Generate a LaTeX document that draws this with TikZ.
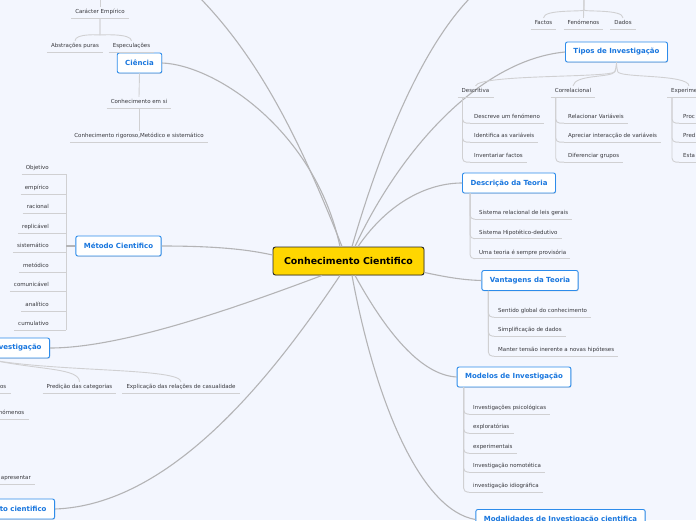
\documentclass[tikz,border=0pt]{standalone}
\usepackage{fontspec}
\setmainfont{DejaVu Sans}
\usetikzlibrary{shadows}
\definecolor{bgcol}{RGB}{243,246,254}
\definecolor{topicblue}{RGB}{24,118,222}
\definecolor{frameblue}{RGB}{45,140,235}
\definecolor{branchgray}{RGB}{180,180,182}
\definecolor{twiggray}{RGB}{208,208,210}
\definecolor{leafgray}{RGB}{55,55,60}
\definecolor{centergold}{RGB}{255,214,0}
\begin{document}
\begin{tikzpicture}[x=1pt,y=-1pt,
  topic/.style={draw=frameblue,fill=white,line width=0.9pt,rounded corners=2pt,
    minimum height=20pt,inner xsep=8pt,text=topicblue,
    font=\fontsize{7}{8}\selectfont\bfseries,
    drop shadow={opacity=0.25,shadow xshift=0.5pt,shadow yshift=-0.9pt}},
  ltext/.style={font=\fontsize{5.5}{6.5}\selectfont,text=leafgray,inner xsep=4pt,
    inner ysep=2.7pt,text height=4.2pt,text depth=1.3pt},
  leaf/.style={ltext,append after command={(\tikzlastnode.south west) edge[uline] (\tikzlastnode.south east)}},
  mleaf/.style={ltext,append after command={(\tikzlastnode.south west) edge[uline] ([xshift=13pt]\tikzlastnode.south east)}},
  branch/.style={draw=branchgray,line width=1.1pt},
  twig/.style={draw=twiggray,line width=0.9pt,rounded corners=4pt},
  uline/.style={draw=twiggray,line width=0.9pt}]
\fill[bgcol] (0,0) rectangle (696,520);
\useasboundingbox (0,0) rectangle (696,520);
% centre
\node[fill=centergold,draw=black!85,line width=0.9pt,rounded corners=2.5pt,
  minimum width=151pt,minimum height=28pt,font=\fontsize{9.4}{11}\selectfont\bfseries,
  drop shadow={opacity=0.2,shadow xshift=0.5pt,shadow yshift=-0.9pt}] (cc) at (348.5,261) {Conhecimento Cientifico};
% topics
\node[topic] (cie) at (139.5,63) {Ciência};
\node[topic] (met) at (118.5,246) {Método Cientifico};
\node[topic,anchor=east,text width=70pt,align=right] (ovi) at (50,348) {vestigação};
\node[topic,anchor=east,text width=70pt,align=right] (tci) at (55,509) {to cientifico};
\node[topic] (tip) at (616.5,52) {Tipos de Investigação};
\node[topic] (dt) at (509,183) {Descrição da Teoria};
\node[topic] (vt) at (530,280.5) {Vantagens da Teoria};
\node[topic] (mi) at (514,377) {Modelos de Investigação};
\node[topic] (mod) at (560.5,519.5) {Modalidades de Investigação cientifica};
\coordinate (tl) at (200,-2); \coordinate (tr) at (470,-2);
% main branches
\draw[branch] ([xshift=-6.5pt]cc.north) .. controls (300,140) and (260,60) .. (tl);
\draw[branch] ([xshift=-8.5pt]cc.north) .. controls (315,130) and (215,65) .. (cie.east);
\draw[branch] ([yshift=6pt]cc.west) .. controls (250,250) and (220,246) .. (met.east);
\draw[branch] ([xshift=3.5pt]cc.north) .. controls (380,150) and (420,50) .. (tr);
\draw[branch] ([xshift=6.5pt]cc.north) .. controls (400,150) and (480,60) .. (tip.west);
\draw[branch] ([xshift=9.5pt]cc.north) .. controls (390,200) and (430,183) .. (dt.west);
\draw[branch] ([yshift=3pt]cc.south east) .. controls (450,278) and (465,280) .. (vt.west);
\draw[branch] ([xshift=6.5pt]cc.south) .. controls (385,330) and (420,375) .. (mi.west);
\draw[branch] ([xshift=3.5pt]cc.south) .. controls (375,400) and (420,510) .. (mod.west);
\draw[branch] ([xshift=-26.5pt]cc.south) .. controls (230,310) and (120,348) .. (ovi.east);
\draw[branch] ([xshift=-8.5pt]cc.south) .. controls (270,380) and (170,505) .. (tci.east);
% top left
\coordinate (ce0) at (100,-2);
\node[leaf] (car) at (100,12.5) {Carácter Empírico};
\node[leaf] (abs) at (75,46.5) {Abstrações puras};
\node[leaf] (esp) at (131.5,46.5) {Especulações};
\draw[twig] (ce0) -- (car.north);
\draw[twig] (car.south) -- (100,31) .. controls (100,35) and (75,33) .. (abs.north);
\draw[twig] (car.south) -- (100,31) .. controls (100,35) and (131.5,33) .. (esp.north);
\node[leaf] (cem) at (139,102.5) {Conhecimento em si};
\node[leaf] (crig) at (139,136.5) {Conhecimento rigoroso,Metódico e sistemático};
\draw[twig] (cie.south) -- (cem.north); \draw[twig] (cem.south) -- (crig.north);
% metodo
\node[mleaf,anchor=east] (m1) at (53,168.5) {Objetivo};
\node[mleaf,anchor=east] (m2) at (53,188.5) {empírico};
\node[mleaf,anchor=east] (m3) at (53,207.5) {racional};
\node[mleaf,anchor=east] (m4) at (53,227.5) {replicável};
\node[mleaf,anchor=east] (m5) at (53,246.5) {sistemático};
\node[mleaf,anchor=east] (m6) at (53,266.5) {metódico};
\node[mleaf,anchor=east] (m7) at (53,285.5) {comunicável};
\node[mleaf,anchor=east] (m8) at (53,305.5) {analítico};
\node[mleaf,anchor=east] (m9) at (53,324.5) {cumulativo};
\coordinate (mv) at (66,246);
\draw[twig] (m1.south -| mv) -- (m9.south -| mv);
\draw[branch,line width=1.4pt] (met.west) -- (mv);
% left bottom
\coordinate (ov) at (-8,360);
\node[leaf,anchor=east] (os) at (10.5,387.5) {os};
\node[leaf] (pre) at (79.5,387.5) {Predição das categorias};
\node[leaf] (exl) at (181,387.5) {Explicação das relações de casualidade};
\node[leaf,anchor=east] (fen) at (28.5,413.5) {nómenos};
\node[leaf,anchor=east] (apr) at (35,478.5) {apresentar};
\draw[twig] (ov) .. controls (40,370) and (79.5,368) .. (pre.north);
\draw[twig] (ov) .. controls (60,372) and (181,368) .. (exl.north);
% top right
\coordinate (fx) at (584,-2);
\node[leaf] (fac) at (543.5,23.5) {Factos};
\node[leaf] (feno) at (583.5,23.5) {Fenómenos};
\node[leaf] (dad) at (623,23.5) {Dados};
\draw[twig] (fx) -- (feno.north);
\draw[twig] (fx) -- (584,6) .. controls (584,12) and (543.5,9) .. (fac.north);
\draw[twig] (fx) -- (584,6) .. controls (584,12) and (623,9) .. (dad.north);
% tipos
\node[leaf] (des) at (475.5,91.5) {Descritiva};
\node[leaf] (cor) at (573,91.5) {Correlacional};
\node[leaf,anchor=west] (exper) at (667,91.5) {Experimental};
\draw[twig] (tip.south) -- (616.5,68) .. controls (612,78) and (480,74) .. (des.north);
\draw[twig] (tip.south) -- (616.5,68) .. controls (612,78) and (575,74) .. (cor.north);
\draw[twig] (tip.south) -- (616.5,68) .. controls (620,78) and (688,74) .. ([xshift=22pt]exper.north west);
\node[leaf,anchor=west] (des1) at (470,117.5) {Descreve um fenómeno};
\node[leaf,anchor=west] (des2) at (470,136.5) {Identifica as variáveis};
\node[leaf,anchor=west] (des3) at (470,156.5) {Inventariar factos};
\node[leaf,anchor=west] (cor1) at (564,117.5) {Relacionar Variáveis};
\node[leaf,anchor=west] (cor2) at (564,136.5) {Apreciar interacção de variáveis};
\node[leaf,anchor=west] (cor3) at (564,156.5) {Diferenciar grupos};
\node[leaf,anchor=west] (exp1) at (679,117.5) {Proc};
\node[leaf,anchor=west] (exp2) at (679,136.5) {Pred};
\node[leaf,anchor=west] (exp3) at (679,156.5) {Esta};
\draw[twig] ([xshift=5pt]des.south west) |- (des1.south west);
\draw[twig] ([xshift=5pt]des.south west) |- (des2.south west);
\draw[twig] ([xshift=5pt]des.south west) |- (des3.south west);
\draw[twig] ([xshift=5pt]cor.south west) |- (cor1.south west);
\draw[twig] ([xshift=5pt]cor.south west) |- (cor2.south west);
\draw[twig] ([xshift=5pt]cor.south west) |- (cor3.south west);
\draw[twig] ([xshift=5pt]exper.south west) |- (exp1.south west);
\draw[twig] ([xshift=5pt]exper.south west) |- (exp2.south west);
\draw[twig] ([xshift=5pt]exper.south west) |- (exp3.south west);
% descricao da teoria
\node[leaf,anchor=west] (dt1) at (475,213.5) {Sistema relacional de leis gerais};
\node[leaf,anchor=west] (dt2) at (475,233) {Sistema Hipotético-dedutivo};
\node[leaf,anchor=west] (dt3) at (475,253) {Uma teoria é sempre provisória};
\draw[twig] ([xshift=8pt]dt.south west) |- (dt1.south west);
\draw[twig] ([xshift=8pt]dt.south west) |- (dt2.south west);
\draw[twig] ([xshift=8pt]dt.south west) |- (dt3.south west);
% vantagens
\node[leaf,anchor=west] (vt1) at (494,311.5) {Sentido global do conhecimento};
\node[leaf,anchor=west] (vt2) at (494,330.5) {Simplificação de dados};
\node[leaf,anchor=west] (vt3) at (494,350.5) {Manter tensão inerente a novas hipóteses};
\draw[twig] ([xshift=7pt]vt.south west) |- (vt1.south west);
\draw[twig] ([xshift=7pt]vt.south west) |- (vt2.south west);
\draw[twig] ([xshift=7pt]vt.south west) |- (vt3.south west);
% modelos
\node[leaf,anchor=west] (mi1) at (469,408.5) {Investigações psicológicas};
\node[leaf,anchor=west] (mi2) at (469,427.5) {exploratórias};
\node[leaf,anchor=west] (mi3) at (469,447.5) {experimentais};
\node[leaf,anchor=west] (mi4) at (469,466.5) {Investigação nomotética};
\node[leaf,anchor=west] (mi5) at (469,486.5) {investigação idiográfica};
\draw[twig] ([xshift=7pt]mi.south west) |- (mi1.south west);
\draw[twig] ([xshift=7pt]mi.south west) |- (mi2.south west);
\draw[twig] ([xshift=7pt]mi.south west) |- (mi3.south west);
\draw[twig] ([xshift=7pt]mi.south west) |- (mi4.south west);
\draw[twig] ([xshift=7pt]mi.south west) |- (mi5.south west);
\end{tikzpicture}
\end{document}
